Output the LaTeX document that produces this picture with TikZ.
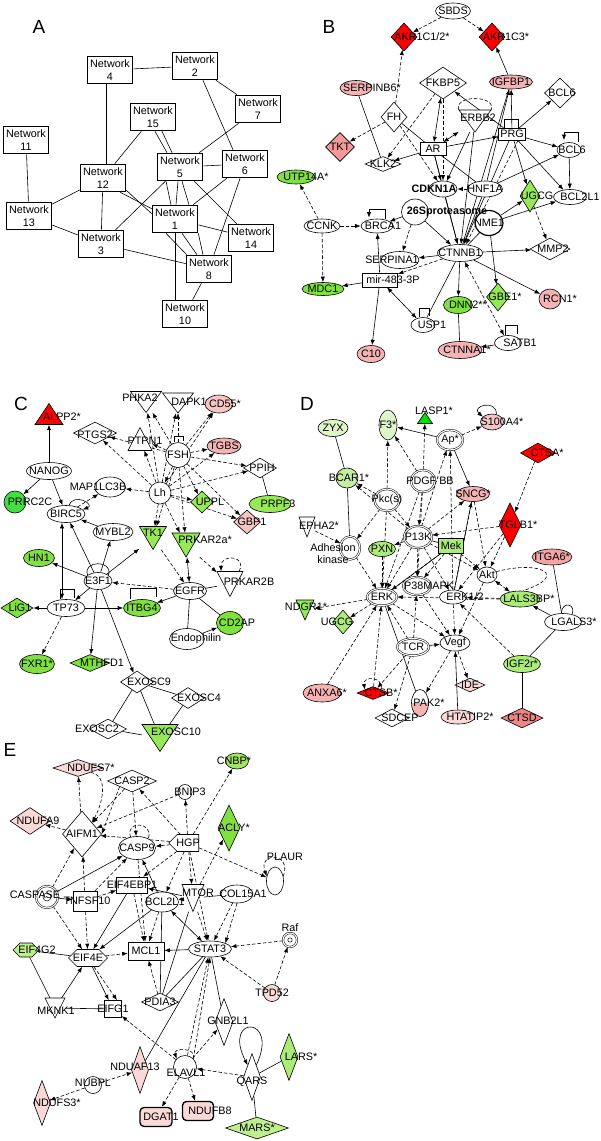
\documentclass[tikz,border=0pt]{standalone}
\usepackage{fontspec}
\setmainfont{Liberation Sans}
\usetikzlibrary{arrows.meta,shapes.geometric,shapes.symbols,backgrounds}
\newcommand\fs{\fontsize{10.8}{11.8}\selectfont}
\newcommand\fnet{\fontsize{10.8}{12.5}\selectfont}
\newcommand\fbig{\fontsize{19}{19}\selectfont}
\definecolor{cred}{HTML}{FF0000}
\definecolor{cpink}{HTML}{F5B3B3}
\definecolor{cpink2}{HTML}{F7C4C4}
\definecolor{cpink3}{HTML}{F2A5A5}
\definecolor{cpink4}{HTML}{F9D8D8}
\definecolor{csalmon}{HTML}{F29A9A}
\definecolor{csalmon2}{HTML}{EE8484}
\definecolor{cgreen}{HTML}{80E040}
\definecolor{cgreen2}{HTML}{96E858}
\definecolor{cgreen3}{HTML}{ABEB78}
\definecolor{cgreen4}{HTML}{A4E462}
\definecolor{cgreen5}{HTML}{BDEF8E}
\definecolor{cbgreen}{HTML}{44DD44}
\definecolor{cvgreen}{HTML}{00DD00}
\definecolor{clgreen}{HTML}{DDF5C9}
\definecolor{cmgreen}{HTML}{C6EEA2}
\newcommand\trid[6]{\draw[line width=0.6pt,fill=#6] ({#2-#4/2},{#3-#5/2}) -- ({#2+#4/2},{#3-#5/2}) -- (#2,{#3+#5/2}) -- cycle; \node[inner sep=0pt, minimum width=#4, minimum height=#5] (#1) at (#2,#3)}
\newcommand\triu[6]{\draw[line width=0.6pt,fill=#6] ({#2-#4/2},{#3+#5/2}) -- ({#2+#4/2},{#3+#5/2}) -- (#2,{#3-#5/2}) -- cycle; \node[inner sep=0pt, minimum width=#4, minimum height=#5] (#1) at (#2,#3)}
\begin{document}
\begin{tikzpicture}[x=1pt,y=-1pt,
 lab/.style={font=\fs, inner sep=0pt, align=center, text=black},
 tx/.style n args={3}{label={[lab, xshift=#1pt, yshift=#2pt]center:#3}},
 cx/.style={label={[lab]center:#1}},
 nb/.style={draw, line width=0.6pt, inner sep=0pt},
 ell/.style={nb, ellipse, fill=#1}, ell/.default=white,
 dia/.style={nb, diamond, fill=#1}, dia/.default=white,
 box/.style={nb, rectangle, fill=#1}, box/.default=white,
 tag/.style={nb, signal, signal to=west, fill=#1}, tag/.default=white,
 hexa/.style={nb, signal, signal to=west and east, fill=#1}, hexa/.default=white,
 dbl/.style={nb, ellipse, fill=white, line width=0.5pt, double, double distance=1.1pt},
 rbox/.style={nb, rectangle, rounded corners=4pt, line width=1.3pt, fill=cpink4},
 sz/.style 2 args={minimum width=#1, minimum height=#2},
 net/.style={draw, line width=1.6pt, fill=white, minimum width=45, minimum height=27, inner sep=0pt, align=center, font=\fnet},
 ln/.style={line width=0.6pt},
 dln/.style={ln, dash pattern=on 3.5pt off 2pt},
 arr/.style={ln, -{Latex[length=5.5pt,width=4.2pt]}},
 darr/.style={arr, dash pattern=on 3.5pt off 2pt},
 barr/.style={ln, {Latex[length=5.5pt,width=4.2pt]}-{Latex[length=5.5pt,width=4.2pt]}},
 dbarr/.style={barr, dash pattern=on 3.5pt off 2pt},
 letter/.style={font=\fbig, inner sep=0pt}]
\useasboundingbox (0,0) rectangle (600,1141);
\begin{scope}[on background layer]
\fill[white] (0,0) rectangle (600,1141);
\end{scope}

% ================= Panel letters
\node[letter] (lA) at (39,27) {A};
\node[letter] (lB) at (329,27) {B};
\node[letter] (lC) at (21,404) {C};
\node[letter] (lD) at (307,404) {D};
\node[letter] (lE) at (10,750) {E};

% ================= Panel A
\node[net] (a4) at (110,70) {Network\\4};
\node[net] (a2) at (195,66) {Network\\2};
\node[net] (a7) at (258,109) {Network\\7};
\node[net] (a15) at (153,117) {Network\\15};
\node[net] (a11) at (26,140) {Network\\11};
\node[net] (a5) at (180,167) {Network\\5};
\node[net] (a6) at (245,164) {Network\\6};
\node[net] (a12) at (103,178) {Network\\12};
\node[net] (a13) at (29,216) {Network\\13};
\node[net] (a1) at (175,219) {Network\\1};
\node[net] (a14) at (251,238) {Network\\14};
\node[net] (a3) at (101,244) {Network\\3};
\node[net] (a8) at (209,269) {Network\\8};
\node[net] (a10) at (185,314) {Network\\10};
\begin{scope}[on background layer]
\draw[ln] (a4) -- (a2);
\draw[ln] ([xshift=-4]a4.south) -- ([xshift=3]a12.north);
\draw[ln] (a2) -- (a7);
\draw[ln] ([xshift=8]a2.south) -- ([xshift=-12]a6.north);
\draw[ln] (a7) -- (a5);
\draw[ln] (a15) -- (a12);
\draw[ln] ([xshift=2]a15.south) -- ([xshift=-13]a5.north);
\draw[ln] ([xshift=9]a15.south) -- ([xshift=-8]a5.north);
\draw[ln] (a5) -- (a6);
\draw[ln] ([xshift=-14]a5.south) -- ([xshift=-4]a1.north);
\draw[ln] ([xshift=-2]a5.south) -- ([xshift=1]a1.north);
\draw[ln] ([xshift=2]a5.south) -- ([xshift=14]a1.north);
\draw[ln] (a5) -- (a14);
\draw[ln] (a5) -- (a3);
\draw[ln] (a6) -- (a1);
\draw[ln] (a6) -- (a8);
\draw[ln] ([xshift=-6]a12.south east) -- ([yshift=-4]a1.north west);
\draw[ln] ([yshift=2]a12.south east) -- ([yshift=-9]a1.north west);
\draw[ln] (a12) -- (a13);
\draw[ln] (a12) -- (a3);
\draw[ln] (a13) -- (a3);
\draw[ln] (a11) -- (a13);
\draw[ln] (a1) -- (a14);
\draw[ln] (a1.south) -- (a1.south |- a10.north);
\draw[ln] ([xshift=-9]a1.south) -- ([xshift=1]a8.north west);
\draw[ln] ([xshift=7]a1.south) -- ([xshift=-12]a8.north);
\draw[ln] (a1.south east) -- ([xshift=-6]a8.north);
\draw[ln] (a3) -- (a8);
\draw[ln] (a8) -- (a10);
\end{scope}

% ================= Panel B
\node[ell, sz={35}{16}, cx=SBDS] (bsbds) at (453,11) {};
\node[dia=cred, sz={26}{28}, tx={18}{0}{AKR1C1/2*}] (bakr1) at (404,37) {};
\node[dia=cred, sz={26}{28}, tx={14}{0}{AKR1C3*}] (bakr3) at (492,37) {};
\node[ell=cpink, sz={32}{15}, tx={16}{0}{SERPINB6*}] (bserb) at (356,88) {};
\node[dia, sz={47}{32}, cx=FKBP5] (bfkbp) at (443,83) {};
\node[ell=cpink, sz={43}{14}, cx=IGFBP1] (bigf) at (511,82) {};
\node[dia, sz={31}{30}, tx={2}{0}{BCL6}] (bbcl6d) at (560,93) {};
\node[dia, sz={26}{30}, cx=FH] (bfh) at (394,117) {};
\trid{berbb}{475}{121}{32}{22}{white}[tx={3}{3}{ERBB2}]{};
\node[box, sz={27}{12}, cx=PRG] (bprg) at (512,134) {};
\node[dia=csalmon, sz={29}{29}, cx=TKT] (btkt) at (340,147) {};
\node[box, sz={26}{13}, cx=AR] (bar) at (433,149) {};
\node[ell, sz={24}{15}, tx={3}{0}{BCL6}] (bbcl6e) at (569,150) {};
\node[dia, sz={36}{15}, cx=KLK2] (bklk) at (383,164) {};
\node[ell=cgreen, sz={38}{14}, tx={10}{0}{UTP14A*}] (butp) at (296,177) {};
\node[ell, line width=1.2pt, sz={28}{25}, cx=NME1] (bnme) at (489,223) {};
\node[ell, sz={35}{16}, cx=HNF1A] (bhnf) at (485,189) {};
\node[ell, sz={28}{16}, tx={-9}{0}{\textbf{CDKN1A}}] (bcdkn) at (443,189) {};
\node[dia=cgreen2, sz={20}{32}, tx={7}{0}{UGCG}] (bugcg) at (530,196) {};
\node[ell, sz={33}{15}, tx={10}{0}{BCL2L1}] (bbcl2) at (570,197) {};
\node[ell, sz={36}{14}, cx=CCNK] (bccnk) at (322,226) {};
\node[ell, sz={32}{14}, tx={6}{0}{BRCA1}] (bbrca) at (377,226) {};
\node[ell, sz={27}{26}, tx={32}{0}{\textbf{26Sproteasome}}] (b26s) at (415,212) {};
\node[ell, sz={45}{17}, cx=CTNNB1] (bctnnb) at (460,253) {};
\node[dia, sz={40}{22}, tx={3}{0}{MMP2}] (bmmp) at (550,249) {};
\node[ell, sz={38}{17}, tx={-8}{0}{SERPINA1}] (bserpa) at (400,260) {};
\node[box, sz={35}{14}, tx={13}{0}{mir-483-3P}] (bmir) at (380,280) {};
\node[ell=cgreen, sz={42}{13}, cx=MDC1] (bmdc) at (323,289) {};
\node[dia=cgreen2, sz={23}{28}, tx={7}{0}{GBE1*}] (bgbe) at (498,297) {};
\node[ell=cpink, sz={22}{20}, tx={10}{0}{RCN1*}] (brcn) at (550,299) {};
\node[ell=cgreen, sz={29}{17}, tx={10}{0}{DNN2**}] (bdnn) at (458,305) {};
\node[ell, sz={24}{15}, tx={9}{0}{USP1}] (busp) at (423,325) {};
\node[ell, sz={27}{15}, tx={12}{0}{SATB1}] (bsatb) at (508,343) {};
\node[ell=cpink, sz={28}{17}, cx=C10] (bc10) at (371,354) {};
\node[ell=cpink, sz={44}{17}, tx={7}{0}{CTNNA1*}] (bctnna) at (460,350) {};
\begin{scope}[on background layer]
\draw[darr] (bsbds) -- (bakr1);
\draw[darr] (bsbds) -- (bakr3);
\draw[darr] (bfh) -- (bakr1);
\draw[arr] (bigf) -- (bakr3);
\draw[ln] (bserb) -- (bklk);
\draw[darr] (bfh) -- (btkt);
\draw[darr] (bfh) -- (bcdkn);
\draw[ln] (bfh) -- (bar);
\draw[darr] (bfkbp) -- (bklk);
\draw[darr] (bfkbp) -- (bcdkn);
\draw[barr] (bfkbp) -- (bar);
\draw[arr] (bprg) -- (bfkbp);
\draw[barr] (berbb) -- (bar);
\draw[arr] (berbb) -- (bcdkn);
\draw[dln] (berbb.north west) to[out=110,in=70,min distance=16] (berbb.north east);
\draw[arr] (bar) -- (bprg);
\draw[arr] (bar) -- (bklk);
\draw[arr] (bar) -- (bcdkn);
\draw[ln] (bar) -- (bhnf);
\draw[arr] (bhnf) -- (bigf);
\draw[arr] (bprg) -- (bigf);
\draw[arr] (bprg) -- (bbcl6d);
\draw[arr] (bprg) -- (bbcl6e);
\draw[arr] (bprg) -- (bbcl2);
\draw[arr] (bprg) -- (bugcg);
\draw[ln] ([xshift=-8]bprg.north) |- ++(14,-8) -- ++(0,8);
\draw[arr] ([xshift=9]bbcl6e.north) |- ++(-14,-10) -- ++(0,8);
\draw[arr] (bbcl6e) -- (bbcl2);
\draw[arr] (bhnf) -- (bbcl6e);
\draw[arr] (bnme) -- (bbcl2);
\draw[arr] (bnme) -- (bugcg);
\draw[darr] (bugcg) -- (bmmp);
\draw[arr] (b26s) -- (bbrca);
\draw[arr] ([xshift=8]bbrca.north) |- ++(-16,-9) -- ++(0,8);
\draw[darr] (bccnk) -- (butp);
\draw[darr] (bccnk) -- (bbrca);
\draw[darr] (bccnk) -- (bmdc);
\draw[arr] (bmir) -- (bbrca);
\draw[arr] (bmir) -- (bmdc);
\draw[arr] (bmir) -- (bc10);
\draw[barr] (bmir) -- (busp);
\draw[darr] (bctnnb) -- (bmir);
\draw[darr] (b26s) -- (bserpa);
\draw[arr] (bctnnb) -- (bserpa);
\draw[arr] (bctnnb) -- (bmmp);
\draw[arr] (bctnnb) -- (brcn);
\draw[arr] (bctnnb) -- (bdnn);
\draw[ln] (bctnnb) -- (busp);
\draw[dbarr] (bctnnb) -- (bsatb);
\draw[arr] (bsatb) -- (bctnna);
\draw[ln] ([xshift=-3]bsatb.north) |- ++(12,-10) -- ++(0,9);
\draw[ln] ([xshift=-4]busp.north) |- ++(10,-9) -- ++(0,8);
\draw[ln] (bdnn) -- (bctnna);
\draw[arr] (bnme) -- (bgbe);
\draw[arr] (b26s) -- (bctnnb);
\draw[arr] (bhnf) -- (bctnnb);
\draw[arr] (bcdkn) -- (bctnnb);
\draw[arr] (bprg) -- (bctnnb);
\draw[darr] ([xshift=6]bprg.south) -- ([xshift=6]bctnnb.north);
\draw[arr] (berbb) -- (bctnnb);
\draw[arr] (bar) -- (bctnnb);
\draw[ln] (bnme) -- (bctnnb);
\draw[darr] (bhnf) -- (bcdkn);
\draw[ln] (bigf) -- (bctnnb);
\end{scope}

% ================= Panel C
\triu{calpp}{49}{414}{28}{21}{cred}[tx={13}{-3}{ALPP2*}]{};
\trid{cphka}{146}{402}{31}{21}{white}[tx={-6}{4}{PHKA2}]{};
\trid{cdapk}{178}{403}{31}{20}{white}[tx={11}{1}{DAPK1}]{};
\node[ell=cpink2, sz={28}{18}, tx={6}{0}{CD55*}] (ccd55) at (219,404) {};
\node[dia, sz={43}{22}, tx={0}{-2}{PTGS2}] (cptgs) at (95,433) {};
\triu{cptpn}{140}{439}{24}{23}{white}[tx={5}{-2}{PTPN1}]{};
\node[ell, sz={25}{25}, cx=FSH] (cfsh) at (178,455) {};
\node[ell=cpink, sz={34}{16}, cx=TGBS] (ctgbs) at (224,446) {};
\node[dia, sz={33}{20}, tx={2}{0}{PPIH}] (cppih) at (260,468) {};
\node[ell, sz={45}{17}, cx=NANOG] (cnanog) at (49,471) {};
\node[ell, sz={31}{20}, tx={-12}{0}{MAP1LC3B}] (cmap) at (110,487) {};
\node[ell, sz={22}{22}, cx=Lh] (clh) at (160,493) {};
\node[dia=cgreen2, sz={23}{22}, tx={8}{0}{UPPL}] (cuppl) at (202,502) {};
\node[ell=cgreen2, sz={42}{17}, tx={8}{0}{PRPF3}] (cprpf) at (270,504) {};
\node[ell=cbgreen, sz={22}{22}, tx={15}{0}{PRRC2C}] (cprrc) at (15,502) {};
\node[ell, sz={38}{17}, cx=BIRC5] (cbirc) at (66,514) {};
\node[dia=cpink2, sz={27}{24}, tx={5}{0}{GBP1}] (cgbp) at (247,522) {};
\node[ell, sz={40}{17}, cx=MYBL2] (cmybl) at (113,532) {};
\trid{ctk1}{153}{538}{27}{23}{cgreen2}[tx={0}{5}{TK1}]{};
\trid{cprka}{186}{545}{28}{24}{cgreen2}[tx={19}{5}{PRKAR2a*}]{};
\node[ell=cgreen, sz={31}{17}, cx=HN1] (chn1) at (39,558) {};
\node[ell, sz={28}{17}, cx=E3F1] (ce3f) at (98,581) {};
\trid{cprkb}{230}{584}{26}{25}{white}[tx={19}{2}{PRKAR2B}]{};
\node[ell, sz={33}{17}, cx=EGFR] (cegfr) at (190,591) {};
\node[dia=cgreen, sz={32}{20}, tx={3}{0}{LiG1}] (clig) at (17,608) {};
\node[ell, sz={38}{17}, cx=TP73] (ctp73) at (66,608) {};
\node[ell=cgreen, sz={37}{17}, cx=ITBG4] (citbg) at (142,608) {};
\node[ell=cgreen, sz={27}{23}, tx={7}{0}{CD2AP}] (ccd2) at (230,623) {};
\node[ell, sz={35}{21}, tx={9}{0}{Endophilin}] (cendo) at (187,639) {};
\node[ell=cgreen, sz={35}{19}, cx=FXR1*] (cfxr) at (37,664) {};
\node[dia=cgreen, sz={40}{17}, tx={12}{0}{MTHFD1}] (cmth) at (90,663) {};
\node[dia, sz={33}{22}, tx={12}{0}{EXOSC9}] (cexo9) at (137,682) {};
\node[dia, sz={33}{21}, tx={11}{0}{EXOSC4}] (cexo4) at (188,698) {};
\node[dia, sz={37}{20}, tx={-11}{0}{EXOSC2}] (cexo2) at (108,729) {};
\trid{cexo10}{160}{738}{36}{27}{cgreen2}[tx={16}{6}{EXOSC10}]{};
\begin{scope}[on background layer]
\draw[arr] (cnanog) -- (calpp);
\draw[arr] (cnanog) -- (cprrc);
\draw[arr] (cnanog) -- (cbirc);
\draw[arr] (cbirc.70) to[out=70,in=20,min distance=14] (cbirc.15);
\draw[darr] (cbirc) -- (cmap);
\draw[arr] (cmybl) -- (cbirc);
\draw[barr] ([xshift=-4]cbirc.south) -- ([xshift=-4]ctp73.north);
\draw[arr] (ce3f) -- (cbirc);
\draw[arr] (ce3f) -- (chn1);
\draw[arr] (ce3f) -- (ctk1);
\draw[arr] (ce3f) -- (cmybl);
\draw[arr] (ce3f) -- (ctp73);
\draw[arr] (ce3f) -- (cmth);
\draw[arr] (ce3f) -- (cexo9);
\draw[ln] (ce3f.150) to[out=110,in=70,min distance=16] (ce3f.30);
\draw[darr] (cegfr) -- (ce3f);
\draw[arr] (cegfr) -- (citbg);
\draw[barr] (cprka) -- (cegfr);
\draw[darr] (ctk1) -- (cegfr);
\draw[darr] (cprka) -- (cprkb);
\draw[darr] ([xshift=9]cprkb.north) to[out=60,in=90,min distance=18] ([xshift=-9]cprkb.north);
\draw[ln] (cegfr) -- (cprkb);
\draw[ln] (cegfr) -- (ccd2);
\draw[ln] (cegfr) -- (cendo);
\draw[arr] (cendo) -- (ccd2);
\draw[arr] (ctp73) -- (clig);
\draw[arr] (ctp73) -- (citbg);
\draw[darr] (ctp73) -- (cfxr);
\draw[ln] ([xshift=-6]ctp73.north) |- ++(14,-10) -- ++(0,9);
\draw[ln] ([xshift=-12]citbg.north) |- ++(26,-11) -- ++(0,9);
\draw[ln] ([xshift=-4]cfsh.north) |- ++(9,-6) -- ++(0,5);
\draw[ln] (cprpf) -- (cppih);
\draw[ln] (cexo9) -- (cexo4);
\draw[ln] (cexo9) -- (cexo2);
\draw[ln] (cexo9) -- (cexo10);
\draw[ln] (cexo4) -- (cexo10);
\draw[ln] (cexo2) -- (cexo10);
\foreach \n in {cphka,cdapk,ccd55,ctgbs,cppih,cptpn,cptgs,cgbp,cuppl,ctk1,cprka,clh}
  \draw[darr] (cfsh) -- (\n);
\foreach \n in {cphka,cdapk,cptpn,cptgs,cmap,cuppl,cppih,cgbp,ctk1,cprka,ccd55,ctgbs}
  \draw[darr] (clh) -- (\n);
\end{scope}

% ================= Panel D
\node[ell=clgreen, sz={30}{17}, cx=ZYX] (dzyx) at (333,428) {};
\node[ell=clgreen, sz={18}{30}, cx=F3*] (df3) at (388,425) {};
\triu{dlasp}{425}{418}{15}{11}{cvgreen}[tx={9}{7}{LASP1*}]{};
\node[ell=cpink2, sz={23}{16}, tx={10}{0}{S100A4*}] (ds100) at (492,422) {};
\node[dbl, sz={26}{20}, cx=Ap*] (dap) at (450,440) {};
\node[dia=cred, sz={35}{20}, tx={9}{0}{CTSA*}] (dctsa) at (538,453) {};
\node[ell=cmgreen, sz={22}{20}, tx={2}{0}{BCAR1*}] (dbcar) at (347,478) {};
\node[dbl, sz={24}{22}, tx={7}{0}{PDGF BB}] (dpdgf) at (423,481) {};
\node[ell=cpink, sz={33}{15}, cx=SNCG*] (dsncg) at (473,494) {};
\node[dbl, sz={25}{22}, cx=Pkc(s)] (dpkc) at (387,500) {};
\node[dia=cred, sz={22}{44}, tx={8}{0}{TGLB1*}] (dtglb) at (510,525) {};
\trid{depha}{307}{527}{16}{20}{white}[tx={12}{1}{EPHA2*}]{};
\node[dbl, sz={28}{22}, cx=P13K] (dp13k) at (418,537) {};
\node[box=cgreen3, sz={25}{15}, cx=Mek] (dmek) at (451,546) {};
\node[dbl, sz={20}{23}, tx={-17}{-6}{Adhesion\\kinase}] (dadh) at (350,548) {};
\node[ell=cgreen3, sz={27}{15}, cx=PXN] (dpxn) at (382,549) {};
\node[ell=cpink3, sz={40}{16}, cx=ITGA6*] (ditga) at (552,557) {};
\node[ell, sz={20}{16}, cx=Akt] (dakt) at (487,575) {};
\node[dbl, sz={28}{18}, tx={12}{0}{P38MAPK}] (dp38) at (417,586) {};
\node[dbl, sz={30}{17}, cx=ERK] (derk) at (382,597) {};
\node[ell, sz={27}{14}, tx={12}{0}{ERK1/2}] (derk12) at (453,597) {};
\node[ell=cgreen3, sz={40}{16}, tx={9}{0}{LALS3BP*}] (dlals) at (520,599) {};
\trid{dndgr}{305}{610}{18}{20}{cgreen2}[tx={1}{3}{NDGR1*}]{};
\node[dia=cgreen3, sz={21}{24}, tx={-6}{0}{UGCG}] (dugcg) at (343,622) {};
\node[ell, sz={37}{17}, tx={11}{0}{LGALS3*}] (dlgals) at (563,622) {};
\node[dbl, sz={32}{17}, cx=TCR] (dtcr) at (413,647) {};
\node[ell, sz={30}{16}, cx=Vegf] (dvegf) at (455,643) {};
\node[ell=cgreen3, sz={37}{17}, cx=IGF2r*] (digf) at (522,664) {};
\node[ell=cpink, sz={38}{18}, tx={5}{0}{ANXA6*}] (danxa) at (322,693) {};
\node[dia=cred, sz={32}{13}, tx={8}{0}{CTSB*}] (dctsb) at (373,693) {};
\node[dia=cpink4, sz={30}{14}, cx=IDE] (dide) at (470,685) {};
\node[ell, sz={17}{27}, path picture={\fill[cpink] (path picture bounding box.west) rectangle (path picture bounding box.south east);}, tx={9}{0}{PAK2*}] (dpak) at (420,703) {};
\node[dia, sz={34}{18}, tx={8}{0}{SDCEP}] (dsdcep) at (392,718) {};
\node[ell=cpink4, sz={34}{14}, tx={12}{0}{HTATIP2*}] (dhtat) at (458,717) {};
\node[dia=csalmon2, sz={42}{20}, cx=CTSD] (dctsd) at (522,718) {};
\begin{scope}[on background layer]
\draw[ln] (dzyx) -- (dbcar);
\draw[ln] (dbcar) -- (dadh);
\draw[arr] (dap) -- (df3);
\draw[arr] (dap) -- (dsncg);
\draw[darr] (dap) -- (ds100);
\draw[arr] (ds100.60) to[out=90,in=140,min distance=16] (ds100.150);
\draw[darr] (dpdgf) -- (dlasp);
\draw[darr] (dpdgf) -- (df3);
\draw[darr] (dpkc) -- (df3);
\draw[darr] (dpkc) -- (dbcar);
\draw[darr] (dp13k) -- (dbcar);
\draw[darr] (dctsa) -- (dtglb);
\draw[darr] (dtglb) -- (dakt);
\draw[darr] (dtglb) -- (derk12);
\draw[darr] (dtglb) -- (dp13k);
\draw[darr] (dpkc) -- (dadh);
\draw[darr] (dpkc) -- (dp13k);
\draw[darr] (dpkc) -- (derk);
\draw[darr] (dpdgf) -- (dp13k);
\draw[darr] (dpdgf) -- (derk);
\draw[darr] (dpdgf) -- (dp38);
\draw[darr] (dp13k) -- (dap);
\draw[darr] (derk12) -- (dap);
\draw[darr] (dp13k) -- (dsncg);
\draw[darr] (derk12) -- (dsncg);
\draw[ln] (dsncg) -- (derk12);
\draw[dbarr] (dakt) -- (dlals);
\draw[dln] (dakt.20) .. controls (540,560) and (570,575) .. (dlals.70);
\draw[darr] (dlals) -- (derk12);
\draw[darr] (dlals.west) -- (derk.east);
\draw[darr] (derk) -- (dndgr);
\draw[darr] (derk) -- (dugcg);
\draw[darr] (danxa) -- (derk);
\draw[darr] (dctsb) -- (derk);
\draw[darr] (dtcr) -- (dctsb);
\draw[darr] (dctsb.north east) to[out=80,in=100,min distance=14] (dctsb.north west);
\draw[darr] (dvegf) -- (dpak);
\draw[darr] (dvegf) -- (dide);
\draw[darr] (dtcr) -- (dsdcep);
\draw[darr] (digf) -- (derk12);
\draw[darr] (dtcr) -- (derk);
\draw[darr] (dtcr) -- (dp38);
\draw[darr] (dp38) -- (dvegf);
\draw[darr] (derk) -- (dvegf);
\draw[darr] (dakt) -- (dvegf);
\draw[darr] (dmek) -- (derk);
\draw[darr] (dp13k) -- (derk);
\draw[darr] (dp13k) -- (dakt);
\draw[darr] (dp13k) -- (derk12);
\draw[darr] (dmek) -- (dakt);
\draw[darr] (dadh) -- (derk);
\draw[darr] (dpxn) -- (derk);
\draw[darr] (depha) -- (dadh);
\draw[darr] (derk12) -- (dvegf);
\draw[darr] (dmek) -- (dp38);
\draw[darr] (dp13k) -- (dp38);
\draw[darr] (dsncg) -- (dakt);
\draw[ln] (dp13k) -- (dmek);
\draw[ln] (dmek) -- (derk);
\draw[arr] (dp13k) -- (dpxn);
\draw[arr] (dlgals) -- (dlals);
\draw[ln] (dlgals.100) to[out=90,in=70,min distance=12] (dlgals.40);
\draw[ln] (ditga) -- (dlgals);
\draw[ln] (digf) -- (dlgals);
\draw[ln] (digf) -- (dctsd);
\draw[arr] (dtcr) -- (dvegf);
\draw[ln] (derk) -- (dpak);
\draw[arr] (dhtat) -- (dvegf);
\end{scope}

% ================= Panel E
\node[dia=cpink4, sz={50}{17}, tx={13}{0}{NDUFS7*}] (endufs7) at (78,768) {};
\node[dia, sz={49}{22}, cx=CASP2] (ecasp2) at (132,781) {};
\node[ell=cgreen4, sz={23}{16}, tx={-3}{0}{CNBP*}] (ecnbp) at (237,761) {};
\node[ell, sz={14}{15}, tx={5}{0}{BNIP3}] (ebnip) at (185,792) {};
\node[dia=cpink4, sz={40}{27}, tx={8}{0}{NDUFA9}] (endufa9) at (30,821) {};
\node[dia, sz={39}{46}, cx=AIFM1] (eaifm) at (82,834) {};
\node[dia=cgreen, sz={22}{46}, tx={5}{0}{ACLY*}] (eacly) at (229,828) {};
\node[ell, sz={37}{23}, cx=CASP9] (ecasp9) at (137,848) {};
\node[tag, sz={30}{17}, cx=HGP] (ehgp) at (188,843) {};
\node[ell, sz={17}{28}, tx={10}{24}{PLAUR}] (eplaur) at (275,881) {};
\node[box, sz={31}{16}, cx=EIF4EBP1] (eeif4ebp) at (132,885) {};
\node[box, sz={24}{20}, tx={2}{0}{TNFSF10}] (etnf) at (85,901) {};
\node[dbl, sz={22}{22}, tx={-12}{2}{CASPASE}] (ecaspase) at (47,897) {};
\node[ell, sz={33}{20}, tx={3}{0}{BCL2L1}] (ebcl2) at (162,902) {};
\trid{emtor}{193}{898}{22}{27}{white}[tx={5}{5}{MTOR}]{};
\node[ell, sz={32}{18}, tx={6}{0}{COL15A1}] (ecol) at (237,894) {};
\node[dbl, sz={14}{14}, label={[lab, label distance=1pt]above:Raf}] (eraf) at (290,940) {};
\node[hexa=cgreen5, sz={26}{14}, tx={11}{0}{EIF4G2}] (eeif4g2) at (26,950) {};
\node[hexa, sz={39}{17}, cx=EIF4E] (eeif4e) at (88,958) {};
\node[box, sz={36}{18}, cx=MCL1] (emcl) at (146,951) {};
\node[ell, sz={43}{16}, cx=STAT3] (estat3) at (210,949) {};
\node[ell=cpink4, sz={17}{17}, cx=TPD52] (etpd) at (272,993) {};
\trid{emknk}{55}{1008}{20}{20}{white}[tx={1}{-3}{MKNK1}]{};
\node[box, sz={17}{17}, cx=EIFG1] (eeifg1) at (113,1009) {};
\node[dia, sz={37}{18}, cx=PDIA3] (epdia) at (160,1002) {};
\node[dia, sz={18}{47}, tx={4}{1}{GNB2L1}] (egnb) at (224,1022) {};
\node[dia=cgreen3, sz={18}{47}, tx={12}{0}{LARS*}] (elars) at (289,1057) {};
\node[dia, sz={17}{47}, tx={0}{-5}{QARS}] (eqars) at (252,1077) {};
\node[dia=cgreen5, sz={63}{22}, cx=MARS*] (emars) at (257,1128) {};
\node[dia=cpink4, sz={17}{47}, tx={-5}{3}{NDUAF13}] (endua) at (140,1070) {};
\node[ell, sz={23}{23}, tx={1}{-6}{ELAVL1}] (eelav) at (185,1067) {};
\node[ell, sz={17}{17}, tx={0}{2}{NUBPL}] (enubpl) at (93,1085) {};
\node[dia=cpink4, sz={17}{45}, tx={15}{0}{NDUFS3*}] (endufs3) at (42,1103) {};
\node[rbox, sz={32}{19}, tx={5}{0}{DGAT1}] (edgat) at (156,1117) {};
\node[rbox, sz={31}{19}, tx={12}{0}{NDUFB8}] (endufb8) at (198,1111) {};
\draw[line width=0.5pt] (ecaspase.center) circle[radius=4];
\draw[line width=0.5pt] (eraf.center) circle[radius=2.2];
\begin{scope}[on background layer]
\draw[darr] (eaifm) -- (endufs7);
\draw[darr] (endufs7.south east) to[out=-10,in=60] (eaifm.north east);
\draw[darr] (eaifm) -- (endufa9);
\draw[darr] (ecasp2) -- (eaifm);
\draw[darr] (ecasp2.south west) -- (eaifm.east);
\draw[darr] (ecasp2) -- (ecasp9);
\draw[darr] (ebnip) -- (eaifm);
\draw[darr] (ehgp) -- (ebnip);
\draw[darr] (ehgp) -- (ecnbp);
\draw[darr] (ehgp) -- (ecasp2);
\draw[darr] (ehgp) -- (ecasp9);
\draw[darr] (ehgp) -- (eaifm);
\draw[darr] (ehgp) -- (eplaur);
\draw[darr] (ehgp) -- (emtor);
\draw[darr] (ehgp) -- (ebcl2);
\draw[darr] (ehgp) -- (estat3);
\draw[darr] (ehgp) -- (eeif4ebp);
\draw[darr] (emtor) -- (eacly);
\draw[dln] (ecasp9.120) to[out=110,in=70,min distance=18] (ecasp9.40);
\draw[darr] (ecaspase) -- (eaifm);
\draw[darr] (etnf) -- (ecasp9);
\draw[darr] (etnf) -- (eaifm);
\draw[darr] (etnf) -- (eeif4ebp);
\draw[darr] (eplaur.30) to[out=70,in=110,min distance=26] (eplaur.150);
\draw[darr] (ecol) -- (estat3);
\draw[darr] (ecol.south) -- (estat3.north east);
\draw[darr] (eeif4e) -- (emcl);
\draw[darr] (epdia) -- (emcl);
\draw[darr] (eraf) -- (estat3);
\draw[darr] (etpd) -- (eraf);
\draw[darr] (etpd) -- (estat3);
\draw[darr] (eelav) -- (estat3);
\draw[darr] (eelav.north east) -- (estat3.south);
\draw[darr] (eelav) -- (eeifg1);
\draw[darr] (eelav) -- (egnb);
\draw[darr] (eelav) -- (edgat);
\draw[darr] (eelav) -- (endufb8);
\draw[darr] (eqars) -- (eelav);
\draw[darr] (enubpl) -- (endua);
\draw[darr] (enubpl) -- (endufs3);
\draw[darr] (eelav.north east) to[out=70,in=110,min distance=12] (eelav.north west);
\draw[darr] (etnf) -- (eeif4e);
\draw[darr] (ecaspase) -- (eeif4e);
\draw[darr] (eeif4ebp) -- (emcl);
\draw[darr] (ebcl2) -- (emcl);
\draw[darr] (ecasp9) -- (emcl);
\draw[darr] (emtor) -- (estat3);
\draw[darr] ([xshift=6]eeif4e.south) -- ([xshift=4]eeifg1.north);
\draw[arr] (ecaspase) -- (ecasp9);
\draw[arr] (ebcl2) -- (ecasp9);
\draw[arr] (emtor) -- (eeif4ebp);
\draw[arr] (emtor) -- (ebcl2);
\draw[arr] (estat3) -- (emcl);
\draw[arr] (emknk) -- (eeif4e);
\draw[arr] (eeif4e) -- (eeifg1);
\draw[barr] (ebcl2) -- (estat3);
\draw[arr] (ebcl2) -- (eeif4e);
\draw[arr] (ecaspase) -- (etnf);
\draw[arr] (eeif4ebp) -- (eeif4e);
\draw[ln] (emtor) -- (ecol);
\draw[ln] (emtor) -- (epdia);
\draw[ln] (eeif4g2) -- (eeif4e);
\draw[ln] (eeif4g2) -- (emknk);
\draw[ln] (emknk) -- (eeifg1);
\draw[ln] (epdia) -- (estat3);
\draw[ln] (epdia) -- (ebcl2);
\draw[ln] (estat3) -- (egnb);
\draw[ln] (estat3) -- (endua);
\draw[ln] (eqars) -- (elars);
\draw[ln] (eqars) -- (emars);
\draw[arr] (eqars.70) .. controls (280,1015) and (222,1015) .. (eqars.110);
\end{scope}
\end{tikzpicture}
\end{document}
